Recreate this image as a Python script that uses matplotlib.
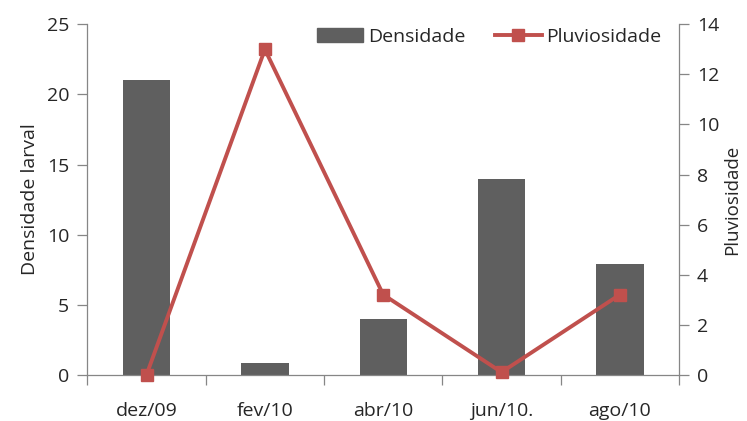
import matplotlib
matplotlib.use("Agg")
import matplotlib.pyplot as plt
from matplotlib.lines import Line2D
from matplotlib.patches import Patch
import numpy as np

months = ["dez/09", "fev/10", "abr/10", "jun/10.", "ago/10"]
densidade = [21.0, 0.8, 4.0, 14.0, 7.9]
pluviosidade = [0.0, 13.0, 3.2, 0.1, 3.2]
left_ticks = [0, 5, 10, 15, 20, 25]
right_ticks = [0, 2, 4, 6, 8, 10, 12, 14]

plt.rcParams["font.family"] = ["Open Sans", "DejaVu Sans"]

bar_color = "#5f5f5f"
line_color = "#c0504d"
axis_color = "#868686"
text_color = "#262626"

fig = plt.figure(figsize=(7.47, 4.21), dpi=100)
ax = fig.add_axes([0.117, 0.110, 0.792, 0.832])
ax2 = ax.twinx()

x = np.arange(len(months))
ax.bar(x, densidade, width=0.4, color=bar_color, zorder=2)
ax2.plot(x, pluviosidade, color=line_color, lw=2.8, marker="s", ms=8,
         mec=line_color, mfc=line_color, zorder=3, clip_on=False)

ax.set_xlim(-0.5, len(months) - 0.5)
ax.set_ylim(0, 25)
ax2.set_ylim(0, 14)
ax.set_yticks(left_ticks)
ax2.set_yticks(right_ticks)

ax.set_xticks(x)
ax.set_xticklabels(months)
ax.set_xticks(np.arange(-0.5, len(months), 1.0), minor=True)
ax.tick_params(axis="x", which="major", length=0, pad=20, labelsize=14,
               colors=text_color)
ax.tick_params(axis="x", which="minor", length=7, width=0.9, color=axis_color,
               direction="out")
ax.tick_params(axis="y", length=7, width=0.9, color=axis_color, labelsize=14,
               labelcolor=text_color, pad=6)
ax2.tick_params(axis="y", length=7, width=0.9, color=axis_color, labelsize=14,
                labelcolor=text_color, pad=6)

for a in (ax, ax2):
    a.spines["top"].set_visible(False)
    for s in ("left", "right", "bottom"):
        a.spines[s].set_color(axis_color)
        a.spines[s].set_linewidth(0.9)
ax.spines["right"].set_visible(False)
ax2.spines["left"].set_visible(False)
ax2.spines["bottom"].set_visible(False)

ax.set_ylabel("Densidade larval", fontsize=14, color=text_color, labelpad=6)
ax2.set_ylabel("Pluviosidade", fontsize=13.5, color=text_color, labelpad=3,
               rotation=90)

handles = [
    Patch(facecolor=bar_color, edgecolor=bar_color, label="Densidade"),
    Line2D([0], [0], color=line_color, lw=2.8, marker="s", ms=8,
           label="Pluviosidade"),
]
leg = ax2.legend(handles=handles, loc="upper right", ncol=2, frameon=False,
                 fontsize=14, bbox_to_anchor=(1.0, 1.04),
                 handlelength=2.4, handletextpad=0.25, columnspacing=1.5)
for t in leg.get_texts():
    t.set_color(text_color)

fig.savefig("out.png", dpi=100)
